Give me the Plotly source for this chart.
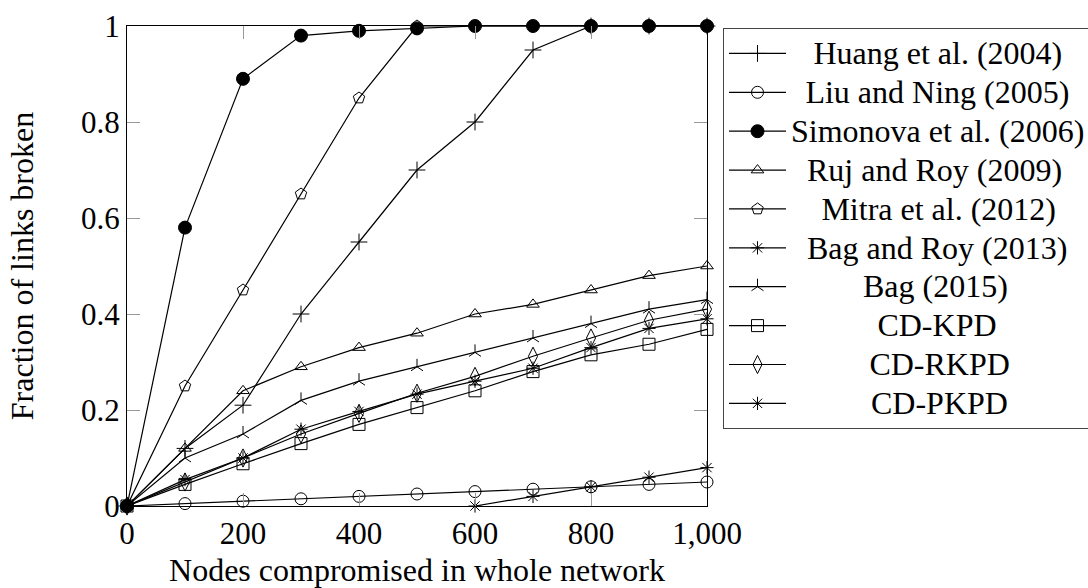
import plotly.graph_objects as go

nodes = [0, 100, 200, 300, 400, 500, 600, 700, 800, 900, 1000]
huang = [0, 0.12, 0.21, 0.40, 0.55, 0.70, 0.80, 0.95, 1.0, 1.0, 1.0]
liu = [0, 0.005, 0.01, 0.015, 0.02, 0.025, 0.03, 0.035, 0.04, 0.045, 0.05]
simonova = [0, 0.58, 0.89, 0.98, 0.99, 0.995, 1.0, 1.0, 1.0, 1.0, 1.0]
ruj = [0, 0.12, 0.24, 0.29, 0.33, 0.36, 0.40, 0.42, 0.45, 0.48, 0.50]
mitra = [0, 0.25, 0.45, 0.65, 0.85, 1.0, 1.0, 1.0, 1.0, 1.0, 1.0]
bag_roy_nodes = [600, 700, 800, 900, 1000]
bag_roy = [0, 0.02, 0.04, 0.06, 0.08]
bag2015 = [0, 0.10, 0.15, 0.22, 0.26, 0.29, 0.32, 0.35, 0.38, 0.41, 0.43]
cd_kpd = [0, 0.045, 0.088, 0.13, 0.17, 0.205, 0.24, 0.28, 0.315, 0.337, 0.368]
cd_rkpd = [0, 0.05, 0.10, 0.15, 0.193, 0.235, 0.27, 0.312, 0.35, 0.387, 0.41]
cd_pkpd = [0, 0.055, 0.10, 0.16, 0.197, 0.233, 0.26, 0.287, 0.33, 0.37, 0.39]

x_ticks = [0, 200, 400, 600, 800, 1000]
x_tick_labels = ["0", "200", "400", "600", "800", "1,000"]
y_ticks = [0, 0.2, 0.4, 0.6, 0.8, 1]
y_tick_labels = ["0", "0.2", "0.4", "0.6", "0.8", "1"]

labels = ["Huang et al. (2004)", "Liu and Ning (2005)", "Simonova et al. (2006)",
          "Ruj and Roy (2009)", "Mitra et al. (2012)", "Bag and Roy (2013)",
          "Bag (2015)", "CD-KPD", "CD-RKPD", "CD-PKPD"]

NB = "\u00a0"
TH = "\u2009"
# padding to imitate the centred legend text of the original
pads = [NB * 2 + TH, NB + TH, "", NB * 2, NB * 3 + TH, NB * 2,
        NB * 9, NB * 10 + TH, NB * 9 + TH, NB * 10]

xs_list = [nodes, nodes, nodes, nodes, nodes, bag_roy_nodes, nodes, nodes, nodes, nodes]
ys_list = [huang, liu, simonova, ruj, mitra, bag_roy, bag2015, cd_kpd, cd_rkpd, cd_pkpd]
symbols = ["cross-thin", "circle-open", "circle", "triangle-up-open", "pentagon-open",
           "asterisk", "y-up", "square-open", "diamond-tall-open", "asterisk"]
sizes = [12, 12, 13, 11, 12, 11, 10, 12, 13, 11]

fig = go.Figure()
for lab, pad, xs, ys, sym, size in zip(labels, pads, xs_list, ys_list, symbols, sizes):
    fig.add_trace(go.Scatter(
        x=xs, y=ys,
        name='<span style="font-size:32px">' + pad + lab + "</span>",
        mode="lines+markers",
        line=dict(color="black", width=1.2),
        marker=dict(symbol=sym, size=size, color="black",
                    line=dict(color="black", width=1.0)),
        cliponaxis=False,
    ))

font_family = "Liberation Serif"
fig.update_layout(
    width=1088, height=588,
    margin=dict(l=127, r=381, t=26, b=82, autoexpand=False),
    plot_bgcolor="white", paper_bgcolor="white",
    font=dict(family=font_family, size=31, color="black"),
    showlegend=True,
    legend=dict(
        x=723 / 1088, xref="container", xanchor="left",
        y=1 - 2 / 480, yanchor="top",
        bordercolor="#444", borderwidth=1, bgcolor="white",
        font=dict(family=font_family, size=27.6, color="black"),
        itemwidth=57, tracegroupgap=0, maxheight=580,
    ),
    xaxis=dict(
        range=[0, 1000], tickvals=x_ticks, ticktext=x_tick_labels,
        showgrid=False, zeroline=False,
        showline=True, linecolor="black", linewidth=1.3, mirror="ticks",
        ticks="inside", ticklen=13, tickcolor="#999", tickwidth=1,
        tickfont=dict(size=31),
        title=dict(text="Nodes compromised in whole network", font=dict(size=32), standoff=12),
    ),
    yaxis=dict(
        range=[0, 1], tickvals=y_ticks, ticktext=y_tick_labels,
        showgrid=False, zeroline=False,
        showline=True, linecolor="black", linewidth=1.3, mirror="ticks",
        ticks="inside", ticklen=13, tickcolor="#999", tickwidth=1,
        tickfont=dict(size=31),
        title=dict(text="Fraction of links broken", font=dict(size=32), standoff=37),
    ),
)

fig.write_html("out.html")
